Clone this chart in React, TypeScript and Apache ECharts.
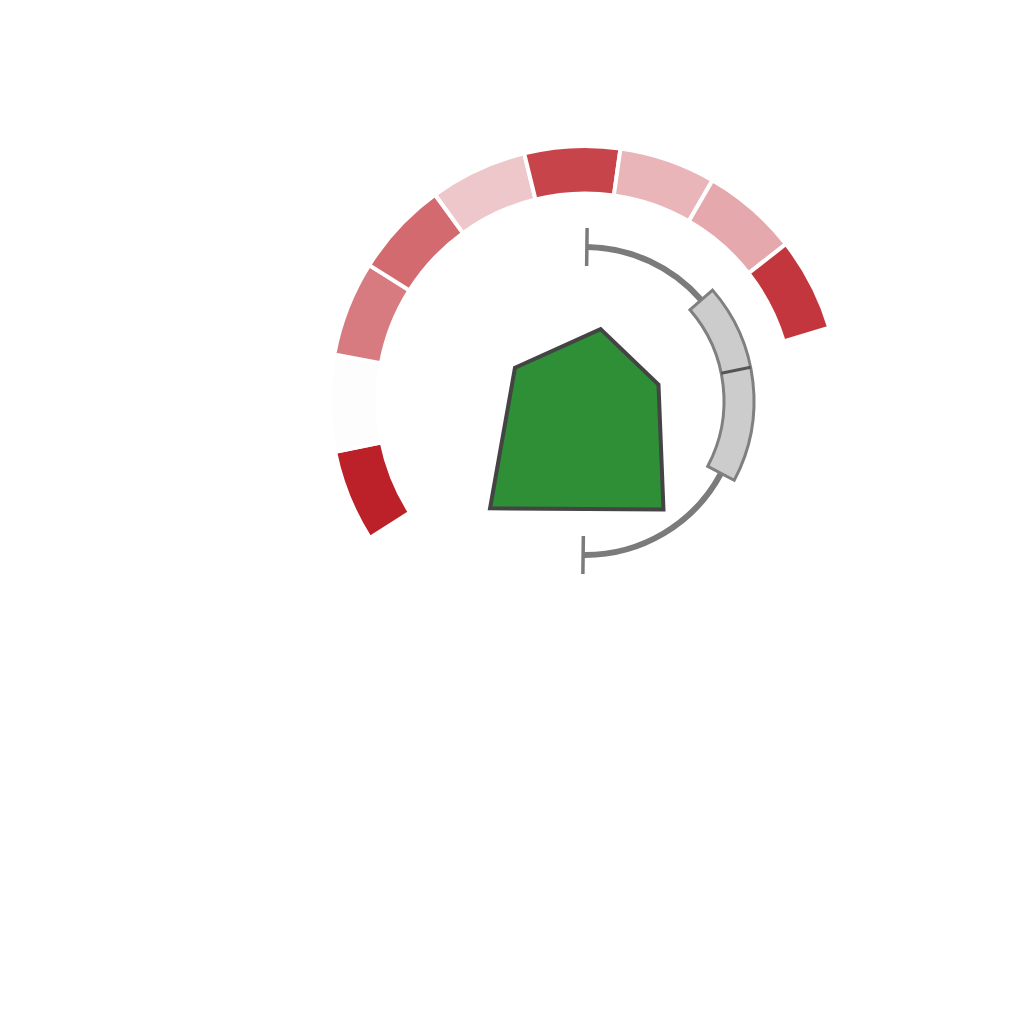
import React, { useEffect, useRef } from "react";
import * as echarts from "echarts";

// Angles are degrees measured clockwise from 12 o'clock; radii are in radius-axis units.
const ringBounds = [-122.5, -101.5, -79.5, -57.8, -36, -13.8, 8, 30, 52, 73.3];
const ringValues = [100, 1, 59, 67, 25, 84, 33, 39, 90];
const ringInner = 207.5;
const ringOuter = 255;

const boxRadius = 154;
const boxStats = [0.7, 49, 78.5, 118, 180.7]; // min, Q1, median, Q3, max

const polyAngles = [-64.6, 12.2, 77.4, 144.1, -138.5];
const polyRadii = [77.5, 73.6, 75.3, 133.8, 143.3];

export default function App() {
  const ref = useRef<HTMLDivElement>(null);
  useEffect(() => {
    if (!ref.current) return;
    const chart = echarts.init(ref.current, undefined, { renderer: "svg" });

    const ringData = ringValues.map((v, i) => [ringBounds[i], ringBounds[i + 1], v]);

    const option: any = {
      animation: false,
      backgroundColor: "#ffffff",
      polar: { center: [585, 401], radius: [0, 253] },
      angleAxis: {
        type: "value",
        min: -180,
        max: 180,
        startAngle: 270,
        clockwise: true,
        show: false,
        axisLine: { show: false },
        splitLine: { show: false },
        axisTick: { show: false },
        axisLabel: { show: false },
      },
      radiusAxis: {
        type: "value",
        min: 0,
        max: 253,
        show: false,
        axisLine: { show: false },
        splitLine: { show: false },
        axisTick: { show: false },
        axisLabel: { show: false },
      },
      visualMap: {
        type: "continuous",
        show: false,
        min: 0,
        max: 100,
        dimension: 2,
        seriesIndex: 0,
        inRange: { color: ["#ffffff", "#bc2029"] },
      },
      series: [
        {
          type: "custom",
          coordinateSystem: "polar",
          data: ringData,
          renderItem: (params: any, api: any) => {
            const a0 = api.value(0);
            const a1 = api.value(1);
            const p0 = api.coord([ringInner, a0]);
            const p1 = api.coord([ringOuter, a1]);
            return {
              type: "sector",
              shape: {
                cx: params.coordSys.cx,
                cy: params.coordSys.cy,
                r0: p0[2],
                r: p1[2],
                startAngle: -p0[3],
                endAngle: -p1[3],
                clockwise: true,
              },
              style: { fill: api.visual("color"), stroke: "#ffffff", lineWidth: 4 },
            };
          },
        },
        {
          type: "custom",
          coordinateSystem: "polar",
          data: [[boxRadius, ...boxStats]],
          renderItem: (params: any, api: any) => {
            const r = api.value(0);
            const mn = api.value(1), q1 = api.value(2), md = api.value(3), q3 = api.value(4), mx = api.value(5);
            const cx = params.coordSys.cx, cy = params.coordSys.cy;
            const c = (rr: number, a: number) => api.coord([rr, a]);
            const pMin = c(r, mn), pQ1 = c(r, q1), pQ3 = c(r, q3), pMax = c(r, mx);
            const halfBox = 15;
            const halfCap = 19;
            const capMin0 = c(r - halfCap, mn), capMin1 = c(r + halfCap, mn);
            const capMax0 = c(r - halfCap, mx), capMax1 = c(r + halfCap, mx);
            const bIn = c(r - halfBox, q1), bOut = c(r + halfBox, q3);
            const m0 = c(r - halfBox, md), m1 = c(r + halfBox, md);
            return {
              type: "group",
              children: [
                {
                  type: "arc",
                  shape: { cx, cy, r: pMin[2], startAngle: -pMin[3], endAngle: -pQ1[3], clockwise: true },
                  style: { stroke: "#7b7b7b", lineWidth: 6, fill: null },
                },
                {
                  type: "arc",
                  shape: { cx, cy, r: pQ3[2], startAngle: -pQ3[3], endAngle: -pMax[3], clockwise: true },
                  style: { stroke: "#7b7b7b", lineWidth: 6, fill: null },
                },
                {
                  type: "line",
                  shape: { x1: capMin0[0], y1: capMin0[1], x2: capMin1[0], y2: capMin1[1] },
                  style: { stroke: "#7b7b7b", lineWidth: 3.5 },
                },
                {
                  type: "line",
                  shape: { x1: capMax0[0], y1: capMax0[1], x2: capMax1[0], y2: capMax1[1] },
                  style: { stroke: "#7b7b7b", lineWidth: 3.5 },
                },
                {
                  type: "sector",
                  shape: {
                    cx,
                    cy,
                    r0: bIn[2],
                    r: bOut[2],
                    startAngle: -bIn[3],
                    endAngle: -bOut[3],
                    clockwise: true,
                  },
                  style: { fill: "#cccccc", stroke: "#808080", lineWidth: 3 },
                },
                {
                  type: "line",
                  shape: { x1: m0[0], y1: m0[1], x2: m1[0], y2: m1[1] },
                  style: { stroke: "#555555", lineWidth: 3 },
                },
              ],
            };
          },
        },
        {
          type: "custom",
          coordinateSystem: "polar",
          data: polyAngles.map((a, i) => [polyRadii[i], a]),
          renderItem: (params: any, api: any) => {
            if (params.dataIndex !== 0) return null;
            const pts = polyAngles.map((a, i) => {
              const p = api.coord([polyRadii[i], a]);
              return [p[0], p[1]];
            });
            return {
              type: "polygon",
              shape: { points: pts },
              style: { fill: "#2e8f36", stroke: "#444444", lineWidth: 4, lineJoin: "miter" },
            };
          },
        },
      ],
    };
    chart.setOption(option);
    return () => chart.dispose();
  }, []);
  return (
    <div
      ref={ref}
      style={{ position: "fixed", left: 0, top: 0, width: 1024, height: 1024, background: "#ffffff" }}
    />
  );
}
